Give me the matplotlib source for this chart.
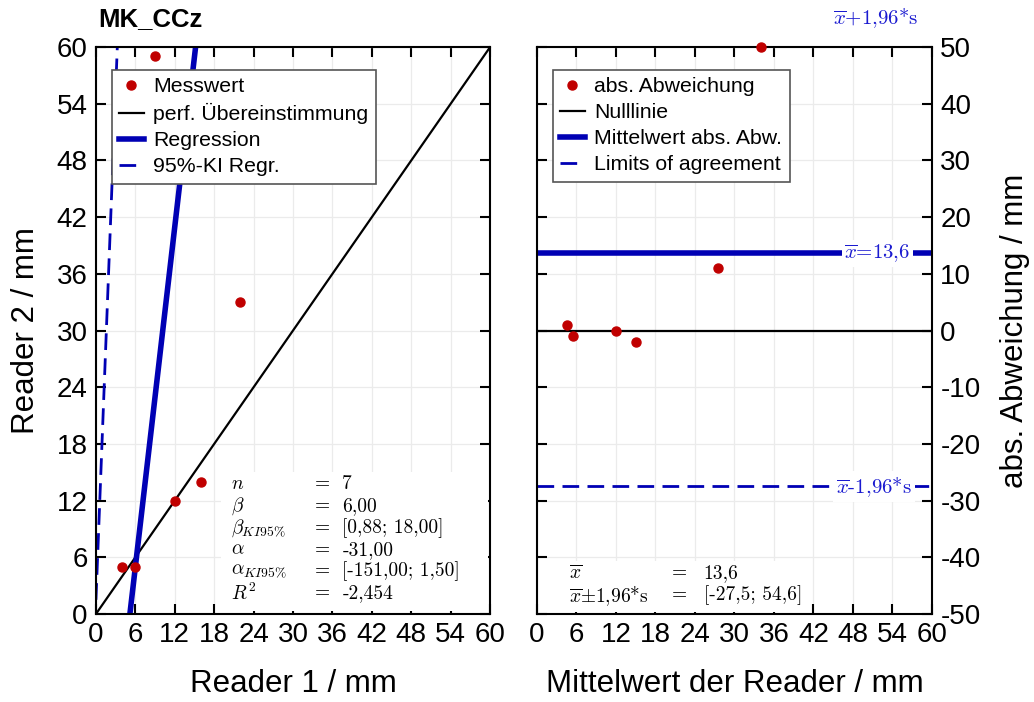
import matplotlib.pyplot as plt
import numpy as np

plt.rcParams['font.family'] = ['Liberation Sans', 'DejaVu Sans']
plt.rcParams['mathtext.fontset'] = 'cm'
plt.rcParams['axes.unicode_minus'] = False

# Messwerte (Reader 1, Reader 2)
reader1 = [4, 6, 12, 16, 22, 9]
reader2 = [5, 5, 12, 14, 33, 59]

# Regression und Konfidenzintervall
beta, alpha = 6.00, -31.00
beta_ki = [0.88, 18.00]
alpha_ki = [-151.00, 1.50]

# Bland-Altman Kennwerte
mean_diff = 13.6
loa = [-27.5, 54.6]

ticks_left = np.arange(0, 61, 6)
ticks_diff = np.arange(-50, 51, 10)

red = '#c00000'
blue = '#0000b4'
tblue = '#1a1ad0'
serif = 'cmr10'

fig = plt.figure(figsize=(10.34, 7.02), dpi=100)
ax1 = fig.add_axes([0.0928, 0.1254, 0.3812, 0.8076])
ax2 = fig.add_axes([0.5193, 0.1254, 0.3820, 0.8076])

leg_kw = dict(loc='upper left', bbox_to_anchor=(0.04, 0.96), borderaxespad=0,
              fontsize=15.3, handlelength=1.15, handletextpad=0.45, borderpad=0.35,
              labelspacing=0.33, fancybox=False, framealpha=1, edgecolor='#555555')

# linkes Diagramm
x = np.array([0, 60])
ax1.plot(reader1, reader2, 'o', color=red, ms=6.5, label='Messwert', zorder=5)
ax1.plot(x, x, color='black', lw=1.6, label='perf. Übereinstimmung')
ax1.plot(x, beta * x + alpha, color=blue, lw=4, label='Regression')
ax1.plot(x, beta_ki[1] * x + alpha_ki[1], color=blue, lw=2, ls=(0, (6, 3)),
         label='95%-KI Regr.')
ax1.plot(x, beta_ki[0] * x + alpha_ki[0], color=blue, lw=2, ls=(0, (6, 3)))
ax1.set_xlim(0, 60)
ax1.set_ylim(0, 60)
ax1.set_xticks(ticks_left)
ax1.set_yticks(ticks_left)
ax1.set_xlabel('Reader 1 / mm', fontsize=22.5, labelpad=15)
ax1.set_ylabel('Reader 2 / mm', fontsize=22.5, labelpad=11)
ax1.text(0.3, 62.2, 'MK_CCz', fontsize=18.5, fontweight='bold')
leg1 = ax1.legend(**leg_kw)
leg1.get_frame().set_linewidth(1.2)

# Statistik-Box links
ax1.add_patch(plt.Rectangle((19, 0.3), 40.7, 14.7, facecolor='white',
                            edgecolor='none', zorder=3))
rows1 = [(r'$n$', '7'),
         (r'$\beta$', '6,00'),
         (r'$\beta_{KI95\%}$', '[0,88; 18,00]'),
         (r'$\alpha$', '-31,00'),
         (r'$\alpha_{KI95\%}$', '[-151,00; 1,50]'),
         (r'$R^2$', '-2,454')]
for i, (s, v) in enumerate(rows1):
    yy = 13.7 - i * 2.3
    ax1.text(20.5, yy, s, fontsize=14, va='center', zorder=4)
    ax1.text(33.3, yy, '=', fontsize=14, va='center', zorder=4, family=serif)
    ax1.text(37.5, yy, v, fontsize=14, va='center', zorder=4, family=serif)

# rechtes Diagramm
means = [(a + b) / 2 for a, b in zip(reader1, reader2)]
diffs = [b - a for a, b in zip(reader1, reader2)]
ax2.plot(means, diffs, 'o', color=red, ms=6.5, label='abs. Abweichung',
         zorder=5, clip_on=False)
ax2.axhline(0, color='black', lw=1.6, label='Nulllinie')
ax2.axhline(mean_diff, color=blue, lw=4, label='Mittelwert abs. Abw.')
ax2.axhline(loa[0], color=blue, lw=2, ls=(0, (6, 3)), label='Limits of agreement')
ax2.axhline(loa[1], color=blue, lw=2, ls=(0, (6, 3)))
ax2.set_xlim(0, 60)
ax2.set_ylim(-50, 50)
ax2.set_xticks(ticks_left)
ax2.set_yticks(ticks_diff)
ax2.yaxis.tick_right()
ax2.yaxis.set_label_position('right')
ax2.set_xlabel('Mittelwert der Reader / mm', fontsize=22.5, labelpad=15)
ax2.set_ylabel('abs. Abweichung / mm', fontsize=22.5, labelpad=14)
leg2 = ax2.legend(**leg_kw)
leg2.get_frame().set_linewidth(1.2)

bbox = dict(facecolor='white', edgecolor='none', pad=2)
ax2.text(51.7, mean_diff, r'$\overline{x}$=13,6', color=tblue, fontsize=15,
         ha='center', va='center', bbox=bbox, zorder=4, family=serif)
ax2.text(51.2, loa[0], r'$\overline{x}$-1,96*s', color=tblue, family=serif,
         fontsize=15, ha='center', va='center', bbox=bbox, zorder=4)
ax2.text(51.5, 55.2, r'$\overline{x}$+1,96*s', color=tblue, family=serif,
         fontsize=15, ha='center', va='center', clip_on=False)

ax2.add_patch(plt.Rectangle((0.3, -49.7), 40, 9.0, facecolor='white',
                            edgecolor='none', zorder=3))
rows2 = [(r'$\overline{x}$', '13,6'),
         (r'$\overline{x}{\pm}$1,96*s', '[-27,5; 54,6]')]
for i, (s, v) in enumerate(rows2):
    yy = -42.8 - i * 3.9
    ax2.text(4.8, yy, s, fontsize=14, va='center', zorder=4, family=serif)
    ax2.text(20.5, yy, '=', fontsize=14, va='center', zorder=4, family=serif)
    ax2.text(25.3, yy, v, fontsize=14, va='center', zorder=4, family=serif)

for ax in (ax1, ax2):
    ax.grid(True, color='#ebebeb', lw=0.9)
    ax.set_axisbelow(True)
    ax.tick_params(direction='in', length=7, width=1.5, top=True, right=True,
                   left=True, labelsize=20, pad=6)
    for sp in ax.spines.values():
        sp.set_linewidth(1.5)
ax2.tick_params(labelleft=False, labelright=True)

fig.savefig('out.png', dpi=100)
